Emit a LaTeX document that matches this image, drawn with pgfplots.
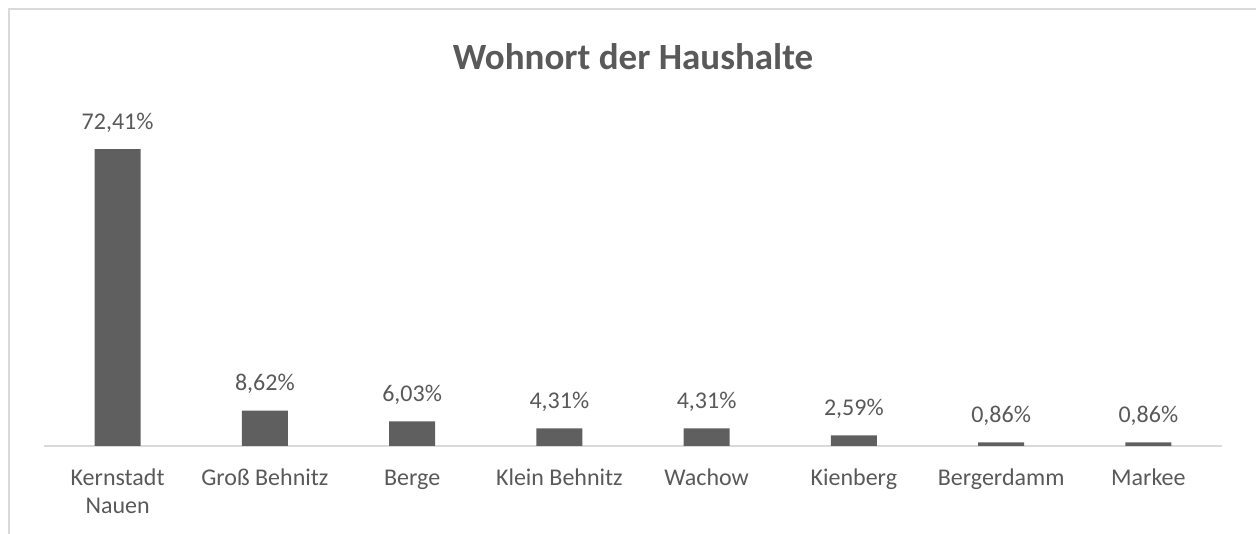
\documentclass[border=0pt]{standalone}
\usepackage{fontspec}
\setmainfont{Carlito}
\usepackage{pgfplots}
\pgfplotsset{compat=1.18}
\definecolor{barcol}{HTML}{5F5F5F}
\definecolor{txtcol}{HTML}{595959}
\definecolor{linecol}{HTML}{D9D9D9}
\begin{document}
\begin{tikzpicture}
\useasboundingbox (0,0) rectangle (628pt,267pt);
\draw[linecol, line width=1pt] (4.5pt,0) -- (4.5pt,262.5pt) -- (628pt,262.5pt);
\begin{axis}[
    at={(22pt,44pt)}, anchor=south west,
    scale only axis,
    width=589pt, height=164pt,
    ybar, bar width=23pt,
    xmin=-0.5, xmax=7.5,
    ymin=0, ymax=80,
    axis y line=none,
    axis x line*=bottom,
    x axis line style={linecol, line width=1pt, -},
    xtick=data,
    xtick style={draw=none},
    typeset ticklabels with strut,
    xticklabels={Kernstadt\\Nauen, Groß Behnitz, Berge, Klein Behnitz, Wachow, Kienberg, Bergerdamm, Markee},
    xticklabel style={align=center, text=txtcol, font=\fontsize{12}{14}\selectfont, yshift=-2pt},
    title={Wohnort der Haushalte},
    title style={at={(0.5,1)}, anchor=center, yshift=24.5pt, text=txtcol, font=\fontsize{18.5}{22}\selectfont\bfseries},
    nodes near coords={\pgfmathprintnumber[fixed, fixed zerofill, precision=2, use comma, assume math mode=true]{\pgfplotspointmeta}\%},
    nodes near coords style={anchor=base, yshift=10pt, text=txtcol, font=\fontsize{12}{14}\selectfont},
]
\addplot[fill=barcol, draw=none] coordinates {
    (0,72.41) (1,8.62) (2,6.03) (3,4.31) (4,4.31) (5,2.59) (6,0.86) (7,0.86)
};
\end{axis}
\end{tikzpicture}
\end{document}
